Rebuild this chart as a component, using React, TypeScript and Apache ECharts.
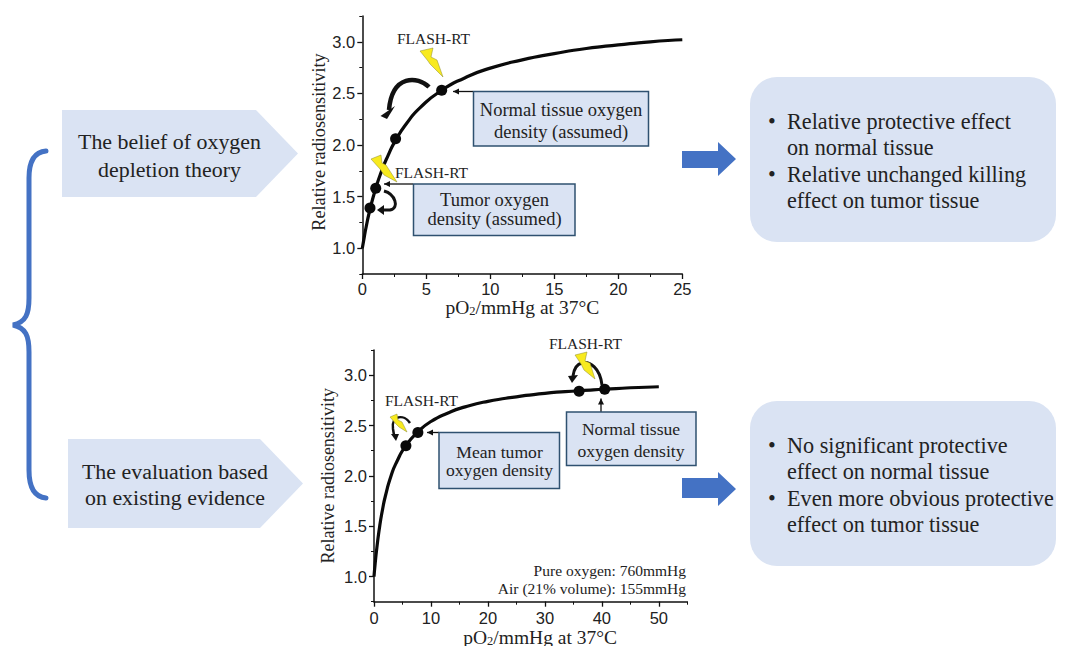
import React, { useEffect, useRef } from "react";
import * as echarts from "echarts";

const topCurveX = [0, 0.15, 0.3, 0.6, 1.05, 1.5, 2, 2.6, 3.5, 4.5, 6.2, 8, 10, 12.5, 15, 17.5, 20, 22.5, 25];
const topCurveY = [1, 1.105, 1.205, 1.375, 1.58, 1.745, 1.895, 2.045, 2.215, 2.36, 2.53, 2.65, 2.745, 2.825, 2.885, 2.935, 2.97, 3.0, 3.02];
const topDotsX = [0.6, 1.05, 2.6, 6.2];
const topDotsY = [1.39, 1.58, 2.06, 2.53];
const bottomCurveX = [0, 0.2, 0.5, 1, 1.5, 2, 3, 4, 5.6, 7.7, 10, 13, 16, 20, 25, 30, 36, 40.5, 45, 50];
const bottomCurveY = [1, 1.125, 1.285, 1.5, 1.665, 1.8, 2.0, 2.14, 2.3, 2.435, 2.54, 2.625, 2.685, 2.74, 2.785, 2.82, 2.845, 2.86, 2.875, 2.885];
const bottomDotsX = [5.6, 7.7, 36, 40.5];
const bottomDotsY = [2.3, 2.43, 2.84, 2.86];
const yMajorTicks = [1, 1.5, 2, 2.5, 3];
const topXTicks = [0, 5, 10, 15, 20, 25];
const bottomXTicks = [0, 10, 20, 30, 40, 50];
const yName = "Relative radiosensitivity";
const flash = "FLASH-RT";

const SERIF = "'Liberation Serif', serif";
const SANS = "'Liberation Sans', sans-serif";
const INK = "#222222";
const PALE = "#dae3f3";
const BLUE = "#4472c4";
const EDGE = "#2f5170";

function zip(a: number[], b: number[]) {
  return a.map((v, i) => [v, b[i]]);
}

echarts.graphic.registerShape("brace", echarts.graphic.extendPath("M46,151 C34,152 29,162 29,178 L29,298 C29,314 26,322 13,325 C26,328 29,336 29,352 L29,470 C29,486 34,497 46,498", {}));
echarts.graphic.registerShape("swoopA", echarts.graphic.extendPath("M429,87 C418,76 392,74 389,110", {}));
echarts.graphic.registerShape("swoopB", echarts.graphic.extendPath("M384,191 C395,194 400,208 390,210 L383,210", {}));
echarts.graphic.registerShape("swoopC", echarts.graphic.extendPath("M410,423 C404,414 391,415 393,429 L394,435", {}));
echarts.graphic.registerShape("swoopD", echarts.graphic.extendPath("M602,385 C600,368 590,361 582,363 C577,364 574,369 573,376", {}));

function poly(points: number[][], fill: string, extra: any = {}) {
  return { type: "polygon", z: 20, shape: { points }, style: { fill, ...extra } };
}
function bolt(points: number[][]) {
  return poly(points, "#f8ea1e", { stroke: "#8a8a30", lineWidth: 0.5 });
}
function label(text: string, x: number, y: number, size: number, align = "center", lineHeight?: number) {
  return {
    type: "text", z: 30, x, y,
    style: { text, fill: INK, font: `${size}px ${SERIF}`, align, verticalAlign: "middle", lineHeight },
  };
}
function box(x: number, y: number, w: number, h: number) {
  return {
    type: "rect", z: 15, shape: { x, y, width: w, height: h },
    style: { fill: PALE, stroke: EDGE, lineWidth: 1.5 },
  };
}
function pointer(x1: number, y1: number, x2: number, y2: number) {
  const horizontal = y1 === y2;
  const head = horizontal
    ? [[x2, y2], [x2 + 6, y2 - 3], [x2 + 6, y2 + 3]]
    : [[x2, y2], [x2 - 3, y2 + 6], [x2 + 3, y2 + 6]];
  return [
    { type: "line", z: 14, shape: { x1, y1, x2, y2 }, style: { stroke: "#111", lineWidth: 1.3 } },
    poly(head, "#111"),
  ];
}
function swoop(type: string, width = 3.5) {
  return { type, z: 18, style: { fill: "none", stroke: "#111", lineWidth: width } };
}
function blueArrow(top: number, bottom: number, headTop: number, headBottom: number) {
  const mid = (headTop + headBottom) / 2;
  return poly(
    [[682, top], [718, top], [718, headTop], [736, mid], [718, headBottom], [718, bottom], [682, bottom]],
    BLUE,
  );
}
function pentagon(l: number, r: number, tip: number, t: number, b: number) {
  return poly([[l, t], [r, t], [tip, (t + b) / 2], [r, b], [l, b]], PALE, {});
}

const xNameText = "{a|pO}{s|2}{a|/mmHg at 37°C}";

function axisPair(min: number, max: number, gridIndex: number, minor: number, majors: number[], nameGap: number, margin: number, nameShift: number) {
  const common = {
    type: "value", gridIndex, min, max,
    axisLine: { show: true, onZero: false, lineStyle: { color: "#111", width: 1.5 } },
    splitLine: { show: false },
  };
  return [
    {
      ...common, interval: minor, position: "bottom",
      name: xNameText, nameLocation: "middle", nameGap,
      nameTextStyle: {
        padding: [0, 0, 0, nameShift],
        rich: {
          a: { fontFamily: SERIF, fontSize: 19.5, color: INK },
          s: { fontFamily: SERIF, fontSize: 12.5, color: INK, verticalAlign: "bottom", padding: [6, 0, 0, 0] },
        },
      },
      axisTick: { show: true, length: 5, customValues: majors, lineStyle: { color: "#111", width: 1.3 } },
      axisLabel: { show: true, margin, customValues: majors, fontFamily: SANS, fontSize: 16.5, color: INK, hideOverlap: false },
    },
    {
      ...common, interval: minor, position: "bottom", axisLine: { show: false },
      axisTick: { show: true, length: 3, lineStyle: { color: "#111", width: 1 } },
      axisLabel: { show: false },
    },
  ];
}
function yPair(gridIndex: number, nameGap: number, nameSize: number, nameShift: number) {
  const common = {
    type: "value", gridIndex, min: 0.75, max: 3.25, position: "left",
    splitLine: { show: false },
  };
  return [
    {
      ...common,
      name: yName, nameLocation: "middle", nameGap,
      nameTextStyle: { fontFamily: SERIF, fontSize: nameSize, color: INK, padding: [0, 0, 0, nameShift] },
      axisLine: { show: true, onZero: false, lineStyle: { color: "#111", width: 1.5 } },
      axisTick: { show: true, length: 5, customValues: yMajorTicks, lineStyle: { color: "#111", width: 1.3 } },
      axisLabel: { show: true, margin: 7, fontFamily: SANS, fontSize: 16.5, color: INK, customValues: yMajorTicks, formatter: (v: number) => v.toFixed(1) },
    },
    {
      ...common, interval: 0.25,
      axisLine: { show: false },
      axisTick: { show: true, length: 3, lineStyle: { color: "#111", width: 1 } },
      axisLabel: { show: false },
    },
  ];
}
function curve(data: number[][], xAxisIndex: number, yAxisIndex: number) {
  return {
    type: "line", data, xAxisIndex, yAxisIndex, smooth: 0.6, showSymbol: false, z: 3,
    lineStyle: { color: "#0a0a0a", width: 3.2 }, silent: true,
  };
}
function dots(data: number[][], xAxisIndex: number, yAxisIndex: number) {
  return {
    type: "scatter", data, xAxisIndex, yAxisIndex, symbolSize: 11, z: 4,
    itemStyle: { color: "#0a0a0a", opacity: 1 }, silent: true,
  };
}

export default function App() {
  const ref = useRef<HTMLDivElement>(null);
  useEffect(() => {
    const chart = echarts.init(ref.current!, undefined, { renderer: "svg" });
    const graphics: any[] = [
      { type: "brace", z: 10, style: { fill: "none", stroke: BLUE, lineWidth: 5, lineCap: "round" } },
      pentagon(62, 256, 298, 110, 197),
      pentagon(68, 260, 303, 439, 528),
      label("The belief of oxygen\ndepletion theory", 169.5, 155.5, 21.9, "center", 27.5),
      label("The evaluation based\non existing evidence", 175, 484.5, 21.9, "center", 26.5),

      box(473.5, 91.5, 175, 54.5),
      box(413.5, 184, 161.5, 51.5),
      box(439, 432.5, 120.5, 56),
      box(566.5, 412, 129.5, 53.5),
      ...pointer(473, 91.5, 453, 91.5),
      ...pointer(413, 184, 384, 184),
      ...pointer(439, 432.5, 427, 432.5),
      ...pointer(601, 412, 601, 398.5),

      label("Normal tissue oxygen\ndensity (assumed)", 561, 120.5, 18.5, "center", 22),
      label("Tumor oxygen\ndensity (assumed)", 494.5, 209.5, 18.5, "center", 18.5),
      label("Mean tumor\noxygen density", 499.5, 460.5, 17.6, "center", 18),
      label("Normal tissue\noxygen density", 631, 440, 17.6, "center", 21.5),

      label(flash, 433.5, 38, 15.5),
      label(flash, 431.5, 172.5, 15.5),
      label(flash, 421.5, 400, 15.5),
      label(flash, 585.5, 343.5, 15.5),
      label("Pure oxygen: 760mmHg\nAir (21% volume): 155mmHg", 686, 579, 15.5, "right", 18),

      swoop("swoopA", 4.5),
      poly([[387, 119], [380.5, 116], [395, 106]], "#111"),
      swoop("swoopB", 3),
      poly([[377, 210], [384, 205], [384, 215]], "#111"),
      swoop("swoopC", 2.5),
      poly([[396, 441], [391, 434], [399, 434]], "#111"),
      swoop("swoopD", 3),
      poly([[572, 383], [568, 376], [578, 375]], "#111"),

      bolt([[420, 51], [433, 48], [431, 57], [437, 60], [443, 77], [430, 64], [428, 61]]),
      bolt([[371, 159], [381, 155], [382, 163], [386, 165], [397, 182], [384, 175], [380, 169]]),
      bolt([[390, 417], [397, 414], [398, 420], [402, 422], [407, 432], [399, 427], [396, 424]]),
      bolt([[575, 355], [587, 352], [585, 361], [590, 363], [595, 379], [584, 370], [581, 364]]),

      blueArrow(151, 168, 142, 176),
      blueArrow(478, 498, 472, 506),

      { type: "rect", z: 5, shape: { x: 750, y: 77, width: 306, height: 165, r: 27 }, style: { fill: PALE } },
      { type: "rect", z: 5, shape: { x: 750, y: 401, width: 306, height: 165, r: 27 }, style: { fill: PALE } },
      label("•", 772, 121.5, 22.2),
      label("Relative protective effect\non normal tissue", 787, 134.5, 22.2, "left", 26),
      label("•", 772, 174, 22.2),
      label("Relative unchanged killing\neffect on tumor tissue", 787, 187, 22.2, "left", 26),
      label("•", 772, 445, 22.2),
      label("No significant protective\neffect on normal tissue", 787, 458.5, 22.2, "left", 26.5),
      label("•", 772, 498.5, 22.2),
      label("Even more obvious protective\neffect on tumor tissue", 787, 511.5, 22.2, "left", 26),
    ];
    chart.setOption({
      animation: false,
      backgroundColor: "#ffffff",
      grid: [
        { left: 362.3, top: 16, width: 320, height: 258, containLabel: false, outerBoundsMode: "none" },
        { left: 374, top: 350, width: 313.3, height: 251.7, containLabel: false, outerBoundsMode: "none" },
      ],
      xAxis: [...axisPair(0, 25, 0, 2.5, topXTicks, 22, 6, 0), ...axisPair(0, 55, 1, 5, bottomXTicks, 17, 8, 19)],
      yAxis: [...yPair(0, 31, 18.2, 6), ...yPair(1, 37, 18, 0)],
      series: [
        curve(zip(topCurveX, topCurveY), 0, 0),
        dots(zip(topDotsX, topDotsY), 0, 0),
        curve(zip(bottomCurveX, bottomCurveY), 2, 2),
        dots(zip(bottomDotsX, bottomDotsY), 2, 2),
      ],
      graphic: { elements: graphics },
    });
    return () => chart.dispose();
  }, []);
  return (
    <div
      ref={ref}
      style={{ position: "fixed", left: 0, top: 0, width: 1067, height: 646, background: "#fff" }}
    />
  );
}
